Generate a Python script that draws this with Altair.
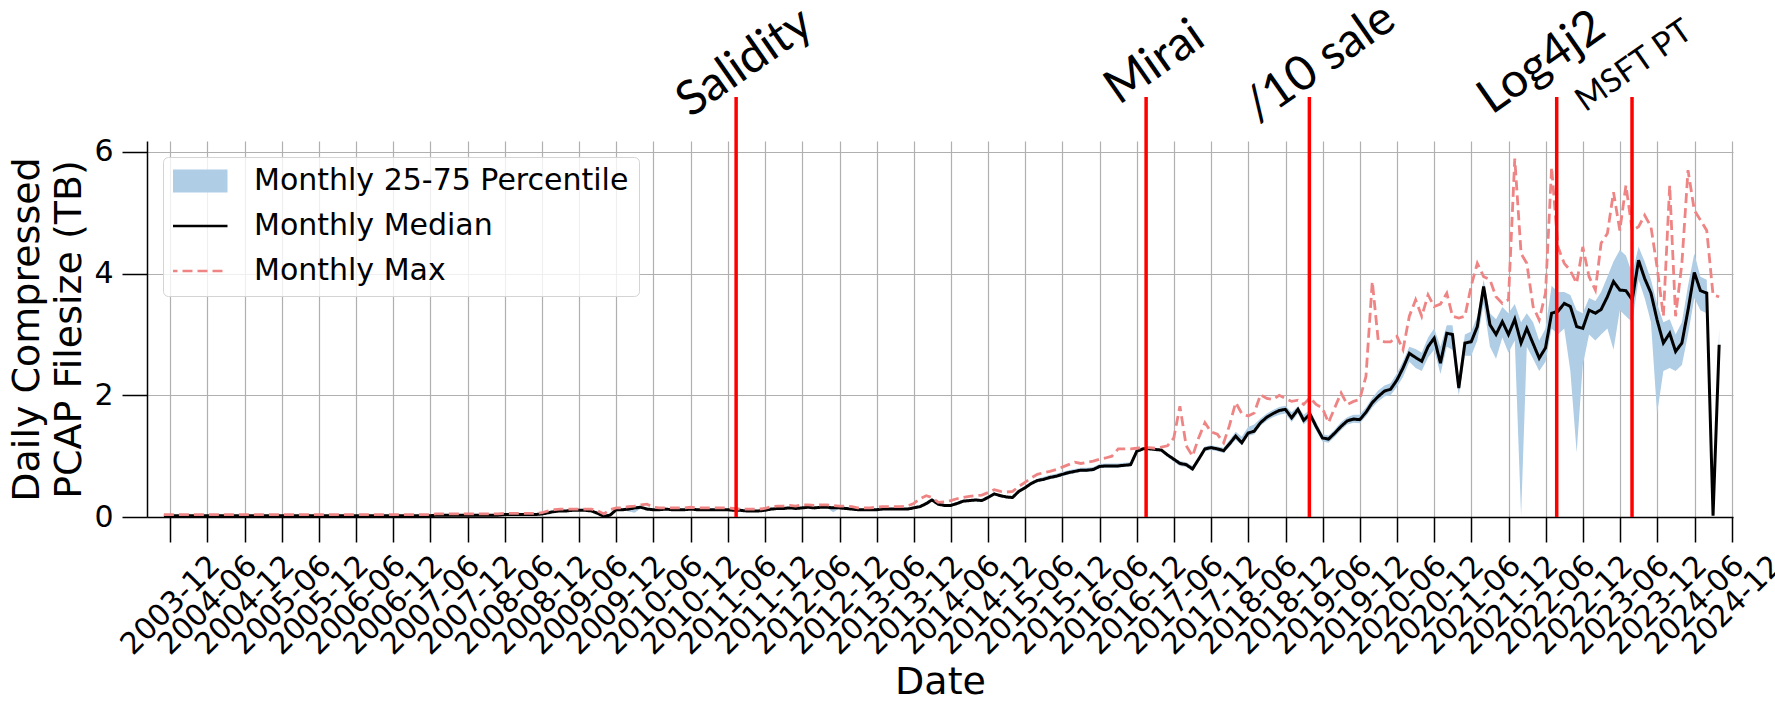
import altair as alt
import pandas as pd

# Monthly statistics of the daily compressed PCAP size (TB), one value per month
# from 2003-10 to 2024-09 (each row below is twelve consecutive months).
MEDIAN = [
    0.02, 0.02, 0.02, 0.02, 0.02, 0.02, 0.02, 0.02, 0.02, 0.02, 0.02, 0.02,
    0.02, 0.02, 0.02, 0.02, 0.02, 0.02, 0.02, 0.02, 0.02, 0.02, 0.02, 0.02,
    0.02, 0.02, 0.02, 0.02, 0.02, 0.02, 0.02, 0.02, 0.02, 0.02, 0.02, 0.02,
    0.02, 0.02, 0.02, 0.02, 0.02, 0.02, 0.02, 0.02, 0.03, 0.03, 0.03, 0.03,
    0.03, 0.03, 0.03, 0.03, 0.03, 0.03, 0.03, 0.04, 0.04, 0.04, 0.04, 0.04,
    0.04, 0.05, 0.07, 0.09, 0.10, 0.10, 0.11, 0.11, 0.11, 0.10, 0.06, 0.01,
    0.03, 0.12, 0.12, 0.13, 0.15, 0.16, 0.13, 0.12, 0.12, 0.13, 0.12, 0.12,
    0.12, 0.13, 0.12, 0.12, 0.12, 0.12, 0.12, 0.12, 0.11, 0.11, 0.10, 0.10,
    0.10, 0.11, 0.13, 0.14, 0.14, 0.15, 0.14, 0.15, 0.16, 0.15, 0.16, 0.16,
    0.15, 0.15, 0.14, 0.13, 0.12, 0.12, 0.12, 0.12, 0.13, 0.13, 0.13, 0.13,
    0.13, 0.15, 0.17, 0.22, 0.28, 0.21, 0.19, 0.19, 0.22, 0.26, 0.27, 0.28,
    0.27, 0.32, 0.38, 0.35, 0.33, 0.32, 0.42, 0.48, 0.55, 0.60, 0.62, 0.65,
    0.67, 0.70, 0.73, 0.75, 0.77, 0.77, 0.78, 0.83, 0.84, 0.84, 0.84, 0.85,
    0.86, 1.08, 1.12, 1.12, 1.11, 1.10, 1.02, 0.95, 0.88, 0.86, 0.79, 0.95,
    1.12, 1.14, 1.12, 1.09, 1.20, 1.33, 1.22, 1.38, 1.41, 1.55, 1.64, 1.70,
    1.75, 1.77, 1.63, 1.77, 1.59, 1.69, 1.49, 1.30, 1.28, 1.38, 1.49, 1.58,
    1.61, 1.60, 1.72, 1.88, 1.98, 2.07, 2.10, 2.25, 2.45, 2.69, 2.62, 2.56,
    2.80, 2.94, 2.53, 3.02, 3.00, 2.12, 2.86, 2.88, 3.13, 3.79, 3.16, 3.00,
    3.21, 3.00, 3.25, 2.86, 3.10, 2.85, 2.61, 2.78, 3.35, 3.38, 3.51, 3.46,
    3.13, 3.10, 3.40, 3.35, 3.41, 3.62, 3.87, 3.73, 3.72, 3.57, 4.22, 3.92,
    3.68, 3.24, 2.86, 3.02, 2.72, 2.86, 3.40, 4.02, 3.72, 3.68, 0.02, 2.83,
]

MAXIMUM = [
    0.04, 0.04, 0.04, 0.04, 0.04, 0.04, 0.04, 0.04, 0.04, 0.04, 0.04, 0.04,
    0.04, 0.04, 0.04, 0.04, 0.04, 0.04, 0.04, 0.04, 0.04, 0.04, 0.04, 0.04,
    0.04, 0.04, 0.04, 0.04, 0.04, 0.04, 0.04, 0.04, 0.04, 0.04, 0.04, 0.04,
    0.04, 0.04, 0.04, 0.04, 0.04, 0.04, 0.04, 0.04, 0.05, 0.05, 0.05, 0.05,
    0.05, 0.05, 0.05, 0.05, 0.05, 0.05, 0.05, 0.06, 0.06, 0.06, 0.06, 0.06,
    0.06, 0.07, 0.10, 0.12, 0.13, 0.13, 0.13, 0.13, 0.13, 0.13, 0.10, 0.05,
    0.12, 0.15, 0.15, 0.17, 0.18, 0.20, 0.21, 0.16, 0.15, 0.15, 0.15, 0.15,
    0.15, 0.16, 0.15, 0.15, 0.15, 0.15, 0.15, 0.15, 0.14, 0.13, 0.13, 0.13,
    0.13, 0.14, 0.17, 0.18, 0.18, 0.19, 0.18, 0.20, 0.20, 0.19, 0.20, 0.20,
    0.19, 0.18, 0.18, 0.17, 0.15, 0.15, 0.15, 0.16, 0.17, 0.17, 0.17, 0.17,
    0.18, 0.22, 0.30, 0.35, 0.32, 0.24, 0.25, 0.27, 0.30, 0.32, 0.34, 0.35,
    0.36, 0.40, 0.45, 0.42, 0.41, 0.42, 0.50, 0.57, 0.64, 0.70, 0.73, 0.75,
    0.78, 0.82, 0.86, 0.90, 0.88, 0.90, 0.92, 0.95, 0.97, 1.00, 1.12, 1.12,
    1.12, 1.13, 1.14, 1.14, 1.13, 1.15, 1.17, 1.30, 1.82, 1.17, 1.00, 1.30,
    1.55, 1.40, 1.36, 1.22, 1.50, 1.88, 1.70, 1.66, 1.71, 2.01, 1.95, 1.93,
    2.00, 1.95, 1.90, 1.92, 1.85, 1.96, 1.85, 1.79, 1.55, 1.80, 2.04, 1.85,
    1.90, 1.93, 2.31, 3.87, 2.91, 2.88, 2.88, 2.97, 2.75, 3.30, 3.57, 3.30,
    3.65, 3.46, 3.50, 3.68, 3.30, 3.27, 3.30, 3.80, 4.17, 3.95, 3.90, 3.62,
    3.51, 3.57, 5.89, 4.33, 4.17, 3.46, 3.24, 3.68, 5.75, 4.44, 4.17, 4.05,
    3.84, 4.44, 3.95, 3.73, 4.50, 4.66, 5.34, 4.71, 5.45, 4.71, 4.77, 4.96,
    4.77, 4.11, 3.30, 5.45, 3.30, 4.17, 5.70, 5.04, 4.88, 4.71, 3.65, 3.62,
]

Q75 = [
    0.03, 0.03, 0.03, 0.03, 0.03, 0.03, 0.03, 0.03, 0.03, 0.03, 0.03, 0.03,
    0.03, 0.03, 0.03, 0.03, 0.03, 0.03, 0.03, 0.03, 0.03, 0.03, 0.03, 0.03,
    0.03, 0.03, 0.03, 0.03, 0.03, 0.03, 0.03, 0.03, 0.03, 0.03, 0.03, 0.03,
    0.03, 0.03, 0.03, 0.03, 0.03, 0.03, 0.03, 0.03, 0.04, 0.04, 0.04, 0.04,
    0.04, 0.04, 0.04, 0.04, 0.04, 0.04, 0.04, 0.05, 0.05, 0.05, 0.05, 0.05,
    0.05, 0.06, 0.08, 0.10, 0.11, 0.11, 0.12, 0.12, 0.12, 0.11, 0.08, 0.03,
    0.06, 0.13, 0.13, 0.14, 0.16, 0.17, 0.14, 0.13, 0.13, 0.14, 0.13, 0.13,
    0.13, 0.14, 0.13, 0.13, 0.13, 0.13, 0.13, 0.13, 0.12, 0.12, 0.11, 0.11,
    0.11, 0.12, 0.14, 0.15, 0.15, 0.16, 0.15, 0.16, 0.17, 0.16, 0.17, 0.17,
    0.16, 0.16, 0.15, 0.14, 0.13, 0.13, 0.13, 0.13, 0.14, 0.14, 0.14, 0.14,
    0.14, 0.16, 0.19, 0.25, 0.30, 0.23, 0.21, 0.21, 0.24, 0.28, 0.29, 0.30,
    0.30, 0.35, 0.40, 0.37, 0.35, 0.35, 0.45, 0.51, 0.58, 0.63, 0.66, 0.69,
    0.71, 0.74, 0.77, 0.79, 0.81, 0.81, 0.82, 0.87, 0.88, 0.88, 0.88, 0.89,
    0.90, 1.10, 1.14, 1.14, 1.13, 1.12, 1.05, 0.98, 0.92, 0.90, 0.84, 0.99,
    1.16, 1.18, 1.16, 1.14, 1.26, 1.40, 1.32, 1.48, 1.52, 1.62, 1.70, 1.76,
    1.81, 1.83, 1.72, 1.82, 1.68, 1.76, 1.56, 1.36, 1.34, 1.44, 1.56, 1.64,
    1.68, 1.68, 1.80, 1.96, 2.08, 2.16, 2.20, 2.36, 2.56, 2.80, 2.76, 2.70,
    2.95, 3.10, 2.80, 3.15, 3.15, 2.28, 3.00, 3.05, 3.30, 3.90, 3.35, 3.25,
    3.45, 3.35, 3.50, 3.20, 3.35, 3.20, 2.90, 3.10, 3.80, 3.70, 3.70, 3.65,
    3.40, 3.35, 3.60, 3.55, 3.70, 3.95, 4.20, 4.39, 4.30, 4.00, 4.44, 4.20,
    3.90, 3.50, 3.20, 3.25, 3.00, 3.20, 3.80, 4.33, 3.95, 3.90, 0.02, 3.10,
]

Q25 = [
    0.01, 0.01, 0.01, 0.01, 0.01, 0.01, 0.01, 0.01, 0.01, 0.01, 0.01, 0.01,
    0.01, 0.01, 0.01, 0.01, 0.01, 0.01, 0.01, 0.01, 0.01, 0.01, 0.01, 0.01,
    0.01, 0.01, 0.01, 0.01, 0.01, 0.01, 0.01, 0.01, 0.01, 0.01, 0.01, 0.01,
    0.01, 0.01, 0.01, 0.01, 0.01, 0.01, 0.01, 0.01, 0.02, 0.02, 0.02, 0.02,
    0.02, 0.02, 0.02, 0.02, 0.02, 0.02, 0.02, 0.03, 0.03, 0.03, 0.03, 0.03,
    0.03, 0.04, 0.06, 0.08, 0.09, 0.09, 0.10, 0.10, 0.10, 0.09, 0.04, 0.00,
    0.02, 0.11, 0.11, 0.09, 0.07, 0.14, 0.12, 0.11, 0.11, 0.12, 0.11, 0.11,
    0.11, 0.12, 0.11, 0.11, 0.11, 0.11, 0.11, 0.11, 0.10, 0.10, 0.09, 0.09,
    0.09, 0.10, 0.12, 0.13, 0.13, 0.14, 0.13, 0.14, 0.15, 0.14, 0.15, 0.15,
    0.08, 0.14, 0.13, 0.12, 0.11, 0.11, 0.11, 0.11, 0.12, 0.12, 0.12, 0.12,
    0.12, 0.14, 0.15, 0.20, 0.26, 0.19, 0.17, 0.17, 0.20, 0.24, 0.25, 0.26,
    0.25, 0.30, 0.35, 0.33, 0.31, 0.30, 0.39, 0.45, 0.52, 0.57, 0.59, 0.62,
    0.64, 0.67, 0.70, 0.72, 0.74, 0.74, 0.75, 0.80, 0.81, 0.81, 0.81, 0.82,
    0.83, 1.05, 1.10, 1.10, 1.09, 1.08, 0.99, 0.91, 0.84, 0.82, 0.75, 0.91,
    1.08, 1.10, 1.08, 1.05, 1.15, 1.27, 1.18, 1.33, 1.36, 1.50, 1.58, 1.64,
    1.68, 1.70, 1.56, 1.70, 1.52, 1.62, 1.42, 1.24, 1.22, 1.32, 1.43, 1.52,
    1.55, 1.54, 1.65, 1.80, 1.90, 1.98, 2.00, 2.14, 2.30, 2.55, 2.45, 2.40,
    2.62, 2.75, 2.35, 2.80, 2.75, 2.00, 2.65, 2.65, 2.90, 3.50, 2.80, 2.60,
    2.95, 2.70, 2.90, 0.02, 2.80, 2.60, 2.40, 2.55, 3.10, 3.00, 3.10, 2.40,
    1.06, 2.50, 3.00, 2.90, 3.00, 3.10, 2.75, 3.40, 3.30, 3.20, 3.90, 3.60,
    3.20, 1.70, 2.40, 2.45, 2.40, 2.50, 3.00, 3.60, 3.40, 3.35, 0.00, 2.70,
]

TICK_LABELS = [
    "2003-12", "2004-06", "2004-12", "2005-06", "2005-12", "2006-06",
    "2006-12", "2007-06", "2007-12", "2008-06", "2008-12", "2009-06",
    "2009-12", "2010-06", "2010-12", "2011-06", "2011-12", "2012-06",
    "2012-12", "2013-06", "2013-12", "2014-06", "2014-12", "2015-06",
    "2015-12", "2016-06", "2016-12", "2017-06", "2017-12", "2018-06",
    "2018-12", "2019-06", "2019-12", "2020-06", "2020-12", "2021-06",
    "2021-12", "2022-06", "2022-12", "2023-06", "2023-12", "2024-06",
    "2024-12",
]

EVENT_NAMES = ["Salidity", "Mirai", "/10 sale", "Log4j2", "MSFT PT"]
EVENT_DATES = ["2011-07-12", "2017-01-15", "2019-03-28", "2022-07-25", "2023-07-30"]
LABEL_DATES = ["2011-08-25", "2017-02-28", "2019-05-20", "2022-05-14", "2023-08-09"]

SERIES = ["Monthly 25-75 Percentile", "Monthly Median", "Monthly Max"]

for name, values in [("MEDIAN", MEDIAN), ("MAXIMUM", MAXIMUM), ("Q75", Q75), ("Q25", Q25)]:
    assert len(values) == 252, (name, len(values))

# Month-end timestamps, 2003-10-31 ... 2024-09-30
try:
    month_ends = pd.date_range("2003-10-31", periods=len(MEDIAN), freq="ME")
except ValueError:
    month_ends = pd.date_range("2003-10-31", periods=len(MEDIAN), freq="M")
dates = month_ends.strftime("%Y-%m-%d").tolist()

band_df = pd.DataFrame({"date": dates, "q25": Q25, "q75": Q75})
median_df = pd.DataFrame({"date": dates, "value": MEDIAN, "series": SERIES[1]})
max_df = pd.DataFrame({"date": dates, "value": MAXIMUM, "series": SERIES[2]})
events_df = pd.DataFrame({"name": EVENT_NAMES, "date": EVENT_DATES, "label_date": LABEL_DATES})


def utc_ms(text):
    """Milliseconds since the epoch for a UTC calendar day."""
    return int(pd.Timestamp(text, tz="UTC").value // 1_000_000)


tick_values = [utc_ms(t + "-01") for t in TICK_LABELS]

BAND_BLUE = "#afcde5"
MAX_RED = "#ee8484"
FONT = "DejaVu Sans"

x_scale = alt.Scale(type="utc", domain=[utc_ms("2003-08-09"), utc_ms("2024-12-07")], nice=False)
y_scale = alt.Scale(domain=[0, 6.18], nice=False, zero=True)

x_axis = alt.Axis(
    values=tick_values, tickCount=100,
    labelExpr="utcFormat(datum.value, '%Y-%m')",
    labelAngle=315, labelAlign="center", labelBaseline="middle",
    labelPadding=63, labelFontSize=30, labelFont=FONT, labelColor="#000000",
    labelOverlap=False, labelFlush=False, labelBound=False,
    tickSize=25, tickWidth=1.5, tickColor="#000000",
    domainColor="#000000", domainWidth=1.5,
    grid=True, gridColor="#b0b0b0", gridWidth=1.2,
    title="Date", titleFont=FONT, titleFontSize=38, titleFontWeight="normal",
    titleColor="#000000", titleBaseline="alphabetic", titleY=176,
)
y_axis = alt.Axis(
    values=[0, 2, 4, 6], format="d",
    labelFontSize=30, labelFont=FONT, labelColor="#000000", labelPadding=9,
    tickSize=25, tickWidth=1.5, tickColor="#000000",
    domainColor="#000000", domainWidth=1.5,
    grid=True, gridColor="#b0b0b0", gridWidth=1.2,
    title=["Daily Compressed", "PCAP Filesize (TB)"], titleFont=FONT,
    titleFontSize=38, titleFontWeight="normal", titleColor="#000000",
    titleAngle=270, titleAlign="center", titleBaseline="top",
    titleX=-139, titleY=188, titleLineHeight=42,
)

# One legend for the three series: the percentile entry is drawn as a wide
# filled bar, the two line entries as thin strokes.
legend = alt.Legend(
    title=None, orient="none", legendX=16, legendY=16,
    symbolType="stroke", symbolSize=3600, clipHeight=28, rowPadding=15,
    symbolStrokeWidth={"expr": "(datum.value === 'Monthly 25-75 Percentile' ? 23 : 2.5)"},
    symbolOffset=-7, labelOffset=25, padding=10,
    labelFont=FONT, labelFontSize=30, labelColor="#000000", labelLimit=700,
    fillColor="rgba(255,255,255,0.8)", strokeColor="#d4d4d4", cornerRadius=5,
)

color_enc = alt.Color("series:N", scale=alt.Scale(domain=SERIES, range=[BAND_BLUE, "#000000", MAX_RED]), legend=legend)
dash_enc = alt.StrokeDash("series:N", scale=alt.Scale(domain=SERIES, range=[[1, 0], [1, 0], [10, 5]]), legend=legend)

band = alt.Chart(band_df).mark_area(color=BAND_BLUE, opacity=1).encode(
    x=alt.X("date:T", scale=x_scale, axis=x_axis),
    y=alt.Y("q25:Q", scale=y_scale, axis=y_axis),
    y2="q75:Q",
)

median_line = alt.Chart(median_df).mark_line(strokeWidth=3).encode(
    x="date:T", y="value:Q", color=color_enc, strokeDash=dash_enc,
)
max_line = alt.Chart(max_df).mark_line(strokeWidth=2.8).encode(
    x="date:T", y="value:Q", color=color_enc, strokeDash=dash_enc,
)

event_rules = alt.Chart(events_df).mark_rule(color="#ff0000", strokeWidth=3.5).encode(
    x="date:T", y=alt.datum(0), y2=alt.value(-44),
)

big_labels = alt.Chart(events_df).transform_filter(alt.datum.name != "MSFT PT").mark_text(
    font="Lato", fontSize=48, angle=325, align="center", baseline="middle", color="#000000",
).encode(x="label_date:T", y=alt.value(-78), text="name:N")

small_labels = alt.Chart(events_df).transform_filter(alt.datum.name == "MSFT PT").mark_text(
    font="Lato", fontSize=33, angle=325, align="center", baseline="middle", color="#000000",
).encode(x="label_date:T", y=alt.value(-75), text="name:N")

chart = (
    alt.layer(band, median_line, max_line, event_rules, big_labels, small_labels)
    .properties(
        width=1586, height=376,
        padding={"left": 147, "top": 141, "right": 42, "bottom": 184},
        autosize=alt.AutoSizeParams(type="none"),
        background="#ffffff",
    )
    .configure_view(stroke=None)
)

chart.save("out.html", embed_options={"renderer": "svg", "actions": False})
